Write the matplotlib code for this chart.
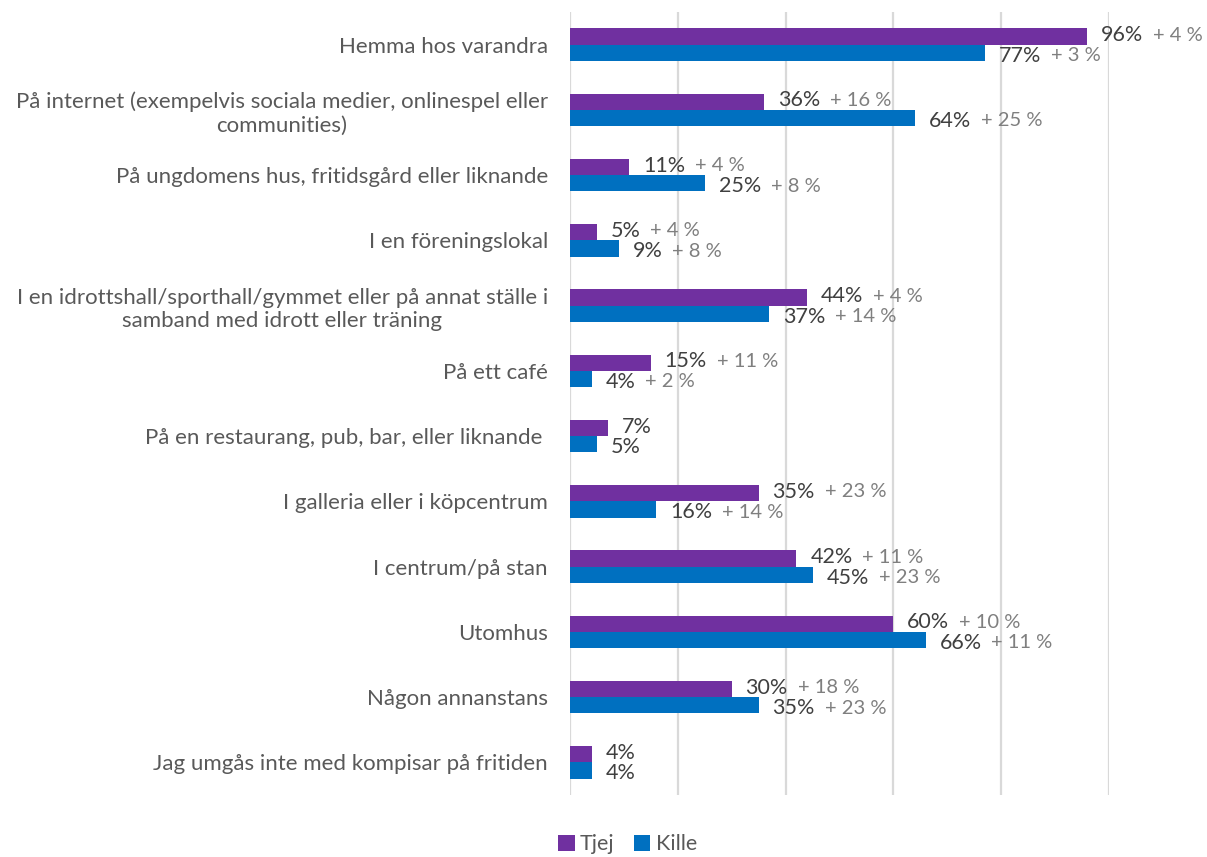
import numpy as np
import matplotlib
matplotlib.use("Agg")
import matplotlib.pyplot as plt

plt.rcParams['font.family'] = ['Lato', 'DejaVu Sans']

# Categories, top to bottom
categories = [
    "Hemma hos varandra",
    "På internet (exempelvis sociala medier, onlinespel eller\ncommunities)",
    "På ungdomens hus, fritidsgård eller liknande",
    "I en föreningslokal",
    "I en idrottshall/sporthall/gymmet eller på annat ställe i\nsamband med idrott eller träning",
    "På ett café",
    "På en restaurang, pub, bar, eller liknande ",
    "I galleria eller i köpcentrum",
    "I centrum/på stan",
    "Utomhus",
    "Någon annanstans",
    "Jag umgås inte med kompisar på fritiden",
]

tjej = [96, 36, 11, 5, 44, 15, 7, 35, 42, 60, 30, 4]
kille = [77, 64, 25, 9, 37, 4, 5, 16, 45, 66, 35, 4]

# Change annotations ("+ x %"), None where there is none
tjej_diff = [4, 16, 4, 4, 4, 11, None, 23, 11, 10, 18, None]
kille_diff = [3, 25, 8, 8, 14, 2, None, 14, 23, 11, 23, None]

series_names = ["Tjej", "Kille"]
colors = ["#7030A0", "#0070C0"]

fig = plt.figure(figsize=(12.07, 8.57), dpi=100)
ax = fig.add_axes([570 / 1207, 1 - 795 / 857, (1109 - 570) / 1207, (795 - 12) / 857])

y = np.arange(len(categories))
h = 0.25

bars_t = ax.barh(y - h / 2, tjej, height=h, color=colors[0], label=series_names[0], zorder=3)
bars_k = ax.barh(y + h / 2, kille, height=h, color=colors[1], label=series_names[1], zorder=3)

ax.set_xlim(0, 100)
ax.set_ylim(len(categories) - 0.5, -0.5)
ax.set_xticks([0, 20, 40, 60, 80, 100])
ax.set_xticklabels([])
ax.grid(axis='x', color='#d9d9d9', linewidth=1.6, zorder=0)
ax.tick_params(axis='both', length=0)
ax.tick_params(axis='y', pad=16)
for s in ax.spines.values():
    s.set_visible(False)

ax.set_yticks(y)
ax.set_yticklabels(categories, fontsize=16, color='#595959', multialignment='center')

# Value labels and change labels
for vals, diffs, yy, dy in [(tjej, tjej_diff, y - h / 2, 1), (kille, kille_diff, y + h / 2, -2)]:
    for v, d, yv in zip(vals, diffs, yy):
        t = ax.annotate(f"{v}%", xy=(v, yv), xytext=(10, dy), textcoords='offset points',
                        ha='left', va='center', fontsize=15.5, color='#404040',
                        annotation_clip=False)
        if d is not None:
            ax.annotate(f"+ {d} %", xy=(1, 0.5), xycoords=t, xytext=(7, 0),
                        textcoords='offset points', ha='left', va='center',
                        fontsize=14.5, color='#7f7f7f', annotation_clip=False)

fig.legend(handles=[bars_t, bars_k], labels=series_names, loc='center',
           bbox_to_anchor=(0.52, 0.015), ncol=2, frameon=False,
           handlelength=0.75, handleheight=0.75, handletextpad=0.25,
           columnspacing=0.9, labelcolor='#595959', prop={'size': 15.5})

fig.savefig("out.png", dpi=100)
